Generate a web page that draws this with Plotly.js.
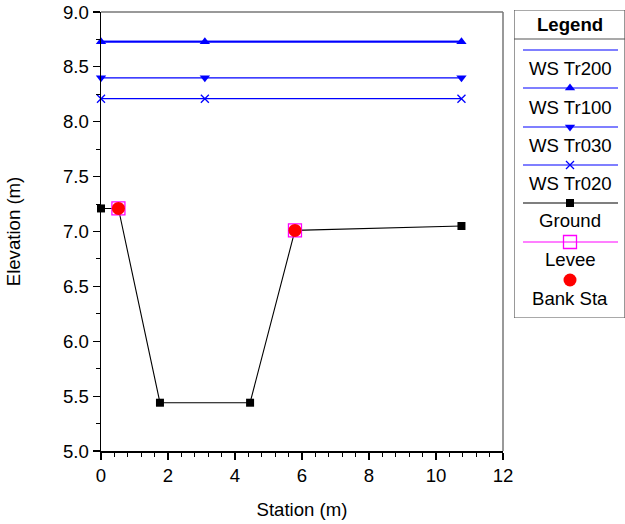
<!DOCTYPE html>
<html><head><meta charset="utf-8">
<script src="https://cdn.plot.ly/plotly-3.0.1.min.js"></script>
<style>body{margin:0;padding:0;background:#fff}#plot{width:625px;height:524px}</style>
</head><body><div id="plot"></div>
<script>
// ---- data ----
const wsStations = [0, 3.1, 10.76];
const wsTr200 = [8.73, 8.73, 8.73];
const wsTr100 = [8.73, 8.73, 8.73];
const wsTr030 = [8.40, 8.40, 8.40];
const wsTr020 = [8.21, 8.21, 8.21];
const groundStations = [0, 0.52, 1.76, 4.45, 5.79, 10.76];
const groundElev = [7.21, 7.21, 5.44, 5.44, 7.01, 7.05];
const leveeStations = [0.52, 5.79];
const leveeElev = [7.21, 7.01];
const bankStations = [0.52, 5.79];
const bankElev = [7.21, 7.01];
const legendNames = ['WS Tr200', 'WS Tr100', 'WS Tr030', 'WS Tr020', 'Ground', 'Levee', 'Bank Sta'];

const FONT = 'Liberation Sans, Arial, Helvetica, sans-serif';
const FS = 18.6;
const BLUE = '#0000ff';

const series = [
  {name: legendNames[0], x: wsStations, y: wsTr200, mode: 'lines', color: BLUE, symbol: null, size: 0, lw: 1.6},
  {name: legendNames[1], x: wsStations, y: wsTr100, mode: 'lines+markers', color: BLUE, symbol: 'triangle-up', size: 9, lw: 1.6},
  {name: legendNames[2], x: wsStations, y: wsTr030, mode: 'lines+markers', color: BLUE, symbol: 'triangle-down', size: 9, lw: 1.3},
  {name: legendNames[3], x: wsStations, y: wsTr020, mode: 'lines+markers', color: BLUE, symbol: 'x-thin-open', size: 8, lw: 1.2},
  {name: legendNames[4], x: groundStations, y: groundElev, mode: 'lines+markers', color: '#000000', symbol: 'square', size: 8, lw: 1.1},
  {name: legendNames[5], x: leveeStations, y: leveeElev, mode: 'markers', color: '#ff00ff', symbol: 'square-open', size: 13, lw: 1.1},
  {name: legendNames[6], x: bankStations, y: bankElev, mode: 'markers', color: '#ff0000', symbol: 'circle', size: 13, lw: 1}
];

function markerOf(s) {
  return {symbol: s.symbol, size: s.size, color: s.color,
    line: {color: s.color, width: s.symbol.indexOf('open') >= 0 ? 1.3 : 0}};
}

const traces = series.map(s => {
  const t = {
    type: 'scatter', x: s.x, y: s.y, mode: s.mode, name: s.name, cliponaxis: false,
    line: {color: s.color, width: s.lw}, showlegend: false, hoverinfo: 'x+y'
  };
  if (s.symbol) t.marker = markerOf(s);
  return t;
});

// ---- custom legend drawn on an auxiliary pixel-like axis ----
const LX0 = 514, LX1 = 624, LXC = 570, LL0 = 523, LL1 = 618;
const lineY = [50, 88, 127, 165, 203, 242, 280];
const textY = [68, 107, 145, 183, 220, 259, 298];
const shapes = [];
const annotations = [];
series.forEach((s, i) => {
  if (s.name !== 'Bank Sta') {
    traces.push({type: 'scatter', xaxis: 'x2', yaxis: 'y2', x: [LL0, LL1], y: [lineY[i], lineY[i]], mode: 'lines',
      line: {color: s.color, width: 1.2}, showlegend: false, hoverinfo: 'skip'});
  }
  if (s.symbol) {
    traces.push({type: 'scatter', xaxis: 'x2', yaxis: 'y2', x: [LXC], y: [lineY[i]], mode: 'markers',
      marker: markerOf(s), showlegend: false, hoverinfo: 'skip', cliponaxis: false});
  }
  annotations.push({xref: 'x2', yref: 'y2', x: LXC, y: textY[i], text: s.name, showarrow: false,
    xanchor: 'center', yanchor: 'middle', font: {family: FONT, size: FS, color: '#000'}});
});
annotations.push({xref: 'x2', yref: 'y2', x: LXC, y: 24, text: '<b>Legend</b>', showarrow: false,
  xanchor: 'center', yanchor: 'middle', font: {family: FONT, size: FS, color: '#000'}});
shapes.push({type: 'rect', xref: 'x2', yref: 'y2', x0: LX0, x1: 625, y0: 10, y1: 318, line: {color: '#555', width: 1.2}});
shapes.push({type: 'line', xref: 'x2', yref: 'y2', x0: LX0, x1: 625, y0: 39, y1: 39, line: {color: '#555', width: 1.2}});
// top and right frame of plot area (gray)
shapes.push({type: 'line', xref: 'x domain', yref: 'y domain', x0: 0, x1: 1, y0: 1, y1: 1, line: {color: '#777', width: 1.5}});
shapes.push({type: 'line', xref: 'x domain', yref: 'y domain', x0: 1, x1: 1, y0: 0, y1: 1, line: {color: '#777', width: 1.5}});

const layout = {
  width: 625, height: 524,
  margin: {l: 101, r: 0, t: 8, b: 73, pad: 0},
  paper_bgcolor: '#fff', plot_bgcolor: '#fff',
  font: {family: FONT, size: FS, color: '#000'},
  showlegend: false,
  xaxis: {
    domain: [0, 402 / 524], range: [0, 12], dtick: 2, tick0: 0,
    showgrid: false, zeroline: false, showline: true, linecolor: '#000', linewidth: 1.5,
    ticks: 'outside', ticklen: 7, tickcolor: '#000', tickwidth: 1.2,
    minor: {dtick: 0.4, tick0: 0, ticks: 'outside', ticklen: 4, tickcolor: '#000', tickwidth: 1},
    tickfont: {family: FONT, size: FS, color: '#000'},
    title: {text: 'Station (m)', font: {family: FONT, size: FS, color: '#000'}, standoff: 18}
  },
  yaxis: {
    domain: [0, 439 / 443], range: [5, 9], dtick: 0.5, tick0: 5, tickformat: '.1f',
    showgrid: false, zeroline: false, showline: true, linecolor: '#000', linewidth: 1.5,
    ticks: 'outside', ticklen: 7, tickcolor: '#000', tickwidth: 1.2,
    minor: {dtick: 0.25, tick0: 5, ticks: 'outside', ticklen: 4, tickcolor: '#000', tickwidth: 1},
    tickfont: {family: FONT, size: FS, color: '#000'},
    title: {text: 'Elevation (m)', font: {family: FONT, size: FS, color: '#000'}, standoff: 37}
  },
  xaxis2: {domain: [(514 - 101) / 524, 1], range: [514, 625], visible: false, fixedrange: true, anchor: 'y2'},
  yaxis2: {domain: [(451 - 318) / 443, (451 - 10) / 443], range: [318, 10], visible: false, fixedrange: true, anchor: 'x2'},
  shapes: shapes,
  annotations: annotations
};

Plotly.newPlot('plot', traces, layout, {displayModeBar: false, staticPlot: true});
</script></body></html>
